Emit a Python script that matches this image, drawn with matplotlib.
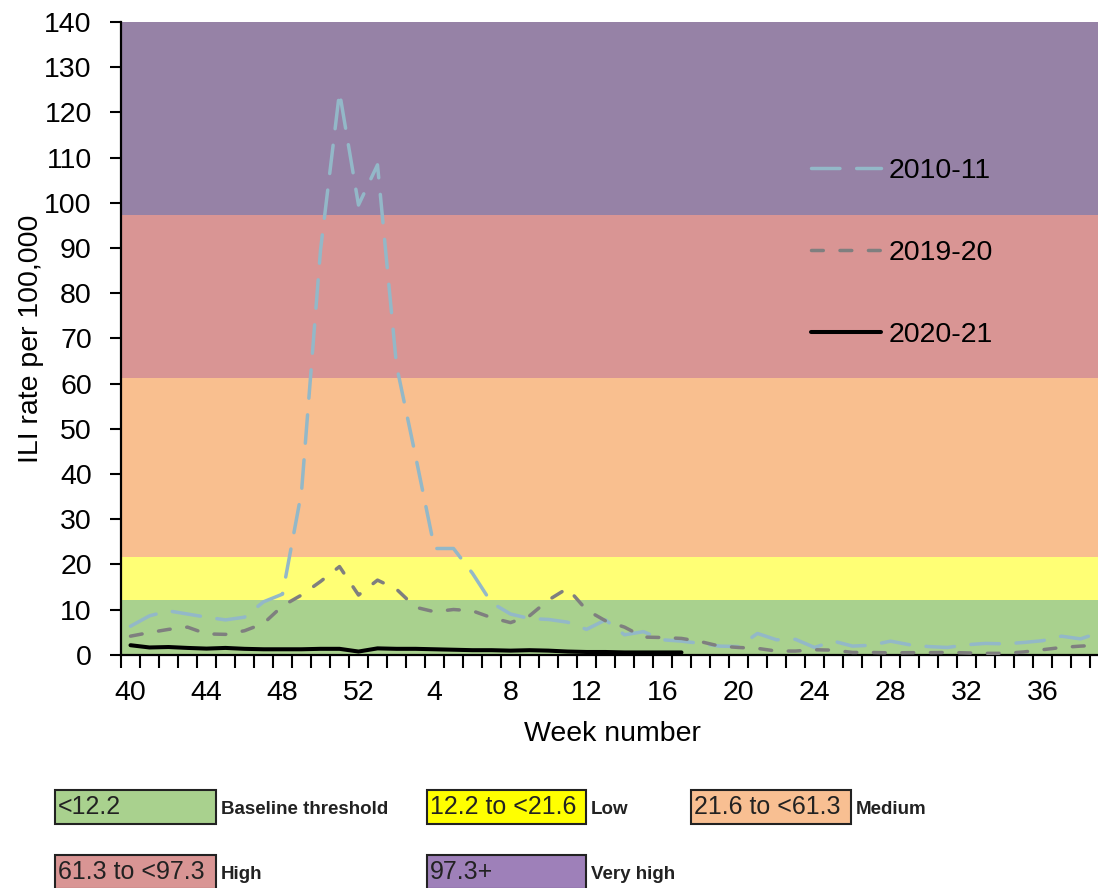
import numpy as np
import matplotlib
matplotlib.use("Agg")
import matplotlib.pyplot as plt
from matplotlib.patches import Rectangle

plt.rcParams['font.family'] = ['Liberation Sans', 'DejaVu Sans']

# week numbers along the season (week 40 to week 39)
week_labels = list(range(40, 53)) + list(range(1, 40))

rate_2010_11 = [6.3, 8.6, 9.7, 9.0, 8.3, 7.7, 8.3, 11.7, 13.4, 36.0, 89.5, 124.5, 99.5,
                108.4, 64.0, 44.0, 23.5, 23.5, 18.0, 11.5, 9.0, 8.0, 7.8, 7.2, 5.6, 7.7,
                4.4, 5.1, 3.3, 3.0, 2.5, 1.9, 1.8, 4.7, 3.3, 3.4, 1.6, 3.0, 1.9, 2.1,
                3.0, 2.2, 1.8, 1.6, 2.2, 2.5, 2.4, 2.7, 3.1, 4.1, 3.5, 4.9]
rate_2019_20 = [4.1, 4.9, 5.6, 6.1, 4.6, 4.5, 5.3, 6.9, 10.8, 13.2, 16.2, 19.5, 13.2,
                16.5, 14.5, 10.5, 9.5, 10.0, 9.7, 8.2, 7.1, 8.6, 12.1, 14.7, 9.9, 7.5,
                6.1, 3.9, 3.8, 3.6, 2.9, 1.9, 1.6, 1.4, 0.8, 0.8, 1.1, 1.0, 0.5, 0.5,
                0.4, 0.45, 0.45, 0.5, 0.4, 0.3, 0.3, 0.6, 1.1, 1.6, 1.9, 2.1]
rate_2020_21 = [2.1, 1.6, 1.7, 1.5, 1.35, 1.5, 1.3, 1.2, 1.2, 1.2, 1.3, 1.3, 0.7,
                1.4, 1.3, 1.3, 1.2, 1.1, 1.0, 1.0, 0.9, 1.0, 0.9, 0.7, 0.6, 0.6,
                0.5, 0.5, 0.5, 0.5]

# activity thresholds
band_edges = [0, 12.2, 21.6, 61.3, 97.3, 140]
band_colors = ['#a9d18e', '#ffff75', '#f9bf8f', '#d99594', '#9682a6']
box_colors = ['#a9d18e', '#ffff00', '#f8bf92', '#d99594', '#9e80b9']
box_texts = ['<12.2', '12.2 to <21.6', '21.6 to <61.3', '61.3 to <97.3', '97.3+']
box_labels = ['Baseline threshold', 'Low', 'Medium', 'High', 'Very high']

W, H = 1098, 888
fs = 20.5
fig = plt.figure(figsize=(W / 100, H / 100), dpi=100)
ax = fig.add_axes([121 / W, 1 - 654.7 / H, 988 / W, 632.7 / H])

for lo, hi, c in zip(band_edges[:-1], band_edges[1:], band_colors):
    ax.axhspan(lo, hi, color=c, lw=0, zorder=0)

x = np.arange(len(week_labels))
ax.plot(x, rate_2010_11, color='#93b8c8', lw=2.5, dashes=(8.2, 4.8),
        dash_capstyle='round', solid_capstyle='round', label='2010-11', zorder=2)
ax.plot(x, rate_2019_20, color='#7f7f7f', lw=2.5, dashes=(3.4, 4.8),
        dash_capstyle='round', label='2019-20', zorder=3)
ax.plot(x[:len(rate_2020_21)], rate_2020_21, color='black', lw=2.9,
        solid_capstyle='round', label='2020-21', zorder=4)

ax.set_xlim(-0.5, len(week_labels) - 0.5)
ax.set_ylim(0, 140)
ax.set_yticks(range(0, 141, 10))
ax.set_xticks(x[::4])
ax.set_xticklabels(week_labels[::4])
ax.set_xticks(np.arange(-0.5, len(week_labels), 1), minor=True)
ax.tick_params(axis='x', which='major', length=0, pad=18, labelsize=fs)
ax.tick_params(axis='x', which='minor', length=9, width=1.5, direction='out')
ax.tick_params(axis='y', length=8, width=1.5, direction='out', pad=13, labelsize=fs)

for s in ['top', 'right']:
    ax.spines[s].set_visible(False)
for s in ['left', 'bottom']:
    ax.spines[s].set_linewidth(1.6)

ax.set_ylabel('ILI rate per 100,000', fontsize=fs)
ax.yaxis.set_label_coords(-0.078, 0.5)
ax.set_xlabel('Week number', fontsize=fs)
ax.xaxis.set_label_coords(0.497, -0.105)

ax.legend(loc='upper left', bbox_to_anchor=(797 / W, 1 - 144 / H),
          bbox_transform=fig.transFigure, frameon=False, fontsize=fs,
          borderpad=0, handlelength=2.46, handletextpad=0.25, labelspacing=1.97)

# threshold key below the chart
box_pos = [(55, 790), (427, 790), (691, 790), (55, 855), (427, 855)]
box_w = [161, 159, 160, 161, 159]
for (bx, by), bw, fc, t, lab in zip(box_pos, box_w, box_colors, box_texts, box_labels):
    fig.add_artist(Rectangle((bx / W, 1 - (by + 34) / H), bw / W, 34 / H,
                             transform=fig.transFigure, facecolor=fc,
                             edgecolor='#222222', lw=1.5))
    fig.text((bx + 3) / W, 1 - (by + 17) / H, t, fontsize=18,
             va='center', ha='left', color='#222222')
    fig.text((bx + bw + 5) / W, 1 - (by + 19) / H, lab, fontsize=13.5,
             fontweight='bold', va='center', ha='left', color='#222222')

fig.savefig('out.png', dpi=100)
